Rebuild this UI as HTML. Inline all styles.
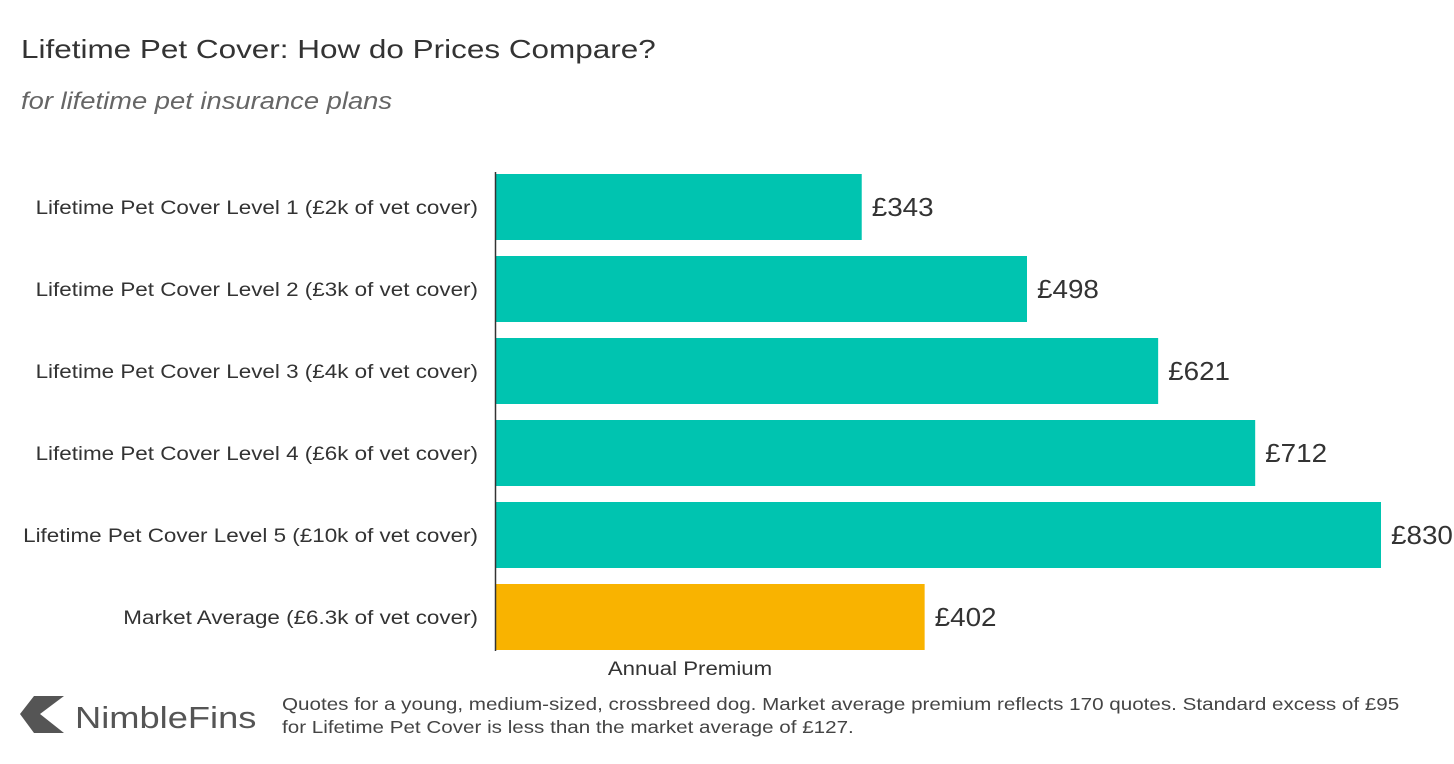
<!DOCTYPE html>
<html><head><meta charset="utf-8"><style>
body{margin:0;background:#fff;width:1454px;height:764px;overflow:hidden;font-family:"Liberation Sans",sans-serif;}
#wrap{position:relative;width:1454px;height:764px;}
.t{position:absolute;white-space:nowrap;transform-origin:0 0;}
</style></head><body><div id="wrap">
<div class="t" style="left:21px;top:34px;font-size:26px;color:#333;transform:scaleX(1.21);">Lifetime Pet Cover: How do Prices Compare?</div>
<div class="t" style="left:21px;top:88px;font-size:24px;font-style:italic;color:#666;transform:scaleX(1.14);">for lifetime pet insurance plans</div>
<svg id="plot" width="1454" height="764" style="position:absolute;left:0;top:0"></svg>
<svg style="position:absolute;left:20px;top:696px" width="48" height="40"><polygon points="14,0 44,0 20,18 44,37 14,37 0,18" fill="#555"/></svg>
<div class="t" style="left:75px;top:700px;font-size:31px;color:#555;transform:scaleX(1.17);">NimbleFins</div>
<div class="t" style="left:282px;top:693px;font-size:17.5px;color:#444;line-height:23px;transform:scaleX(1.178);">Quotes for a young, medium-sized, crossbreed dog. Market average premium reflects 170 quotes. Standard excess of £95<br>for Lifetime Pet Cover is less than the market average of £127.</div>
</div>
<script>
const categories=["Lifetime Pet Cover Level 1 (£2k of vet cover)","Lifetime Pet Cover Level 2 (£3k of vet cover)","Lifetime Pet Cover Level 3 (£4k of vet cover)","Lifetime Pet Cover Level 4 (£6k of vet cover)","Lifetime Pet Cover Level 5 (£10k of vet cover)","Market Average (£6.3k of vet cover)"];
const values=[343,498,621,712,830,402];
const highlight=[false,false,false,false,false,true];
const svg=document.getElementById('plot');
const NS='http://www.w3.org/2000/svg';
const x0=496, xs=885/830, y0=174, pitch=82, bh=66;
const xScale=v=>v*xs;
const yScale=i=>y0+i*pitch;
function mk(tag,attrs,text){const e=document.createElementNS(NS,tag);for(const k in attrs)e.setAttribute(k,attrs[k]);if(text!==undefined)e.textContent=text;svg.appendChild(e);return e;}
function stretch(e,f){const w=e.getComputedTextLength();e.setAttribute('textLength',(w*f).toFixed(1));e.setAttribute('lengthAdjust','spacingAndGlyphs');}
values.forEach((v,i)=>{
  const y=yScale(i);
  const r=mk('rect',{x:x0,y:y,width:xScale(v),height:bh,fill:highlight[i]?'#F9B300':'#00C4B0'});
  
  
  const l=mk('text',{x:x0+xScale(v)+10,y:y+bh/2+9,'font-size':26,fill:'#333','font-family':'Liberation Sans, sans-serif'},'£'+v);
  
  
  stretch(l,1.07);
  const c=mk('text',{x:478,y:y+bh/2+7,'font-size':19,fill:'#333','text-anchor':'end','font-family':'Liberation Sans, sans-serif'},categories[i]);
  
  
  stretch(c,1.18);
});
const ax=mk('line',{x1:495.5,x2:495.5,y1:y0-2,y2:yScale(values.length-1)+bh+1,stroke:'#333','stroke-width':1.5});


const xt=mk('text',{x:690,y:675,'font-size':19,fill:'#333','text-anchor':'middle','font-family':'Liberation Sans, sans-serif'},'Annual Premium');


stretch(xt,1.17);
</script>
</body></html>
